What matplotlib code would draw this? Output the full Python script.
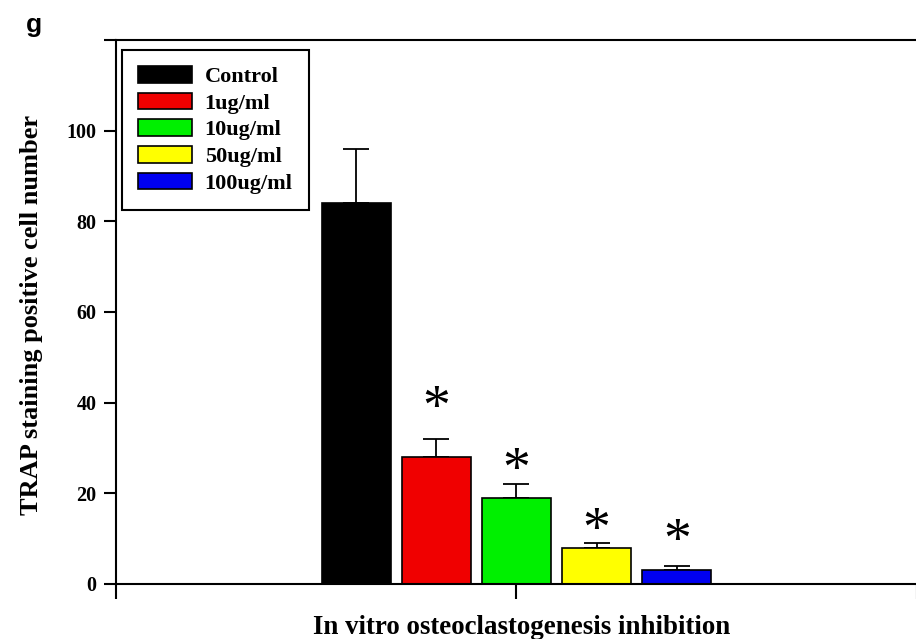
import matplotlib
matplotlib.use("Agg")
from matplotlib import pyplot as plt

groups = ["Control", "1ug/ml", "10ug/ml", "50ug/ml", "100ug/ml"]
means = [84, 28, 19, 8, 3]
errs = [12, 4, 3, 1, 1]
star_y = [None, 41.7, 28.0, 14.8, 12.4]
colors = ["#000000", "#f00000", "#00f000", "#ffff00", "#0000f0"]
yticks = [0, 20, 40, 60, 80, 100, 120]
ytick_labels = ["0", "20", "40", "60", "80", "100", ""]

plt.rcParams['font.family'] = ['Liberation Serif', 'DejaVu Serif']

fig = plt.figure(figsize=(9.16, 6.39), dpi=100)
ax = fig.add_axes([0.1266, 0.0861, 0.8745, 0.8513])

pos = [0.6 + 0.2 * i for i in range(len(means))]
for i in range(len(means)):
    ax.bar(pos[i], means[i], width=0.172, color=colors[i], edgecolor="black",
           linewidth=1.2, label=groups[i], zorder=2)
    ax.errorbar(pos[i], means[i], yerr=[[0], [errs[i]]], fmt="none",
                ecolor="black", elinewidth=1.3, capsize=9.5, capthick=1.3, zorder=1)
    if star_y[i] is not None:
        # glyph sits above the middle of its text box, shift down a bit
        ax.text(pos[i], star_y[i] - 3.3, "*", ha="center", va="center", fontsize=40)

ax.set_xlim(0, 2)
ax.set_ylim(0, 120)
ax.set_xticks([0, 1, 2])
ax.set_xticklabels([])
ax.set_yticks(yticks)
ax.set_yticklabels(ytick_labels, fontsize=14.5, fontweight="bold")
ax.tick_params(axis="both", direction="out", width=1.5)
ax.tick_params(axis="y", length=9, pad=5)
ax.tick_params(axis="x", length=11)
for s in ax.spines.values():
    s.set_linewidth(1.5)

ax.set_ylabel("TRAP staining positive cell number", fontsize=19, fontweight="bold",
              va="center")
ax.yaxis.set_label_coords(-0.105, 0.495)
ax.set_xlabel("In vitro osteoclastogenesis inhibition", fontsize=19.4, fontweight="bold",
              va="baseline")
ax.xaxis.set_label_coords(0.506, -0.092)

leg = ax.legend(loc="upper left", bbox_to_anchor=(0.0075, 0.9816), borderaxespad=0,
                fancybox=False, edgecolor="black", framealpha=1,
                handlelength=2.45, handleheight=0.78, borderpad=0.72,
                labelspacing=0.25, handletextpad=0.55,
                prop={"weight": "bold", "size": 16})
leg.get_frame().set_linewidth(1.5)

fig.text(34 / 916, 1 - 25 / 639, "g", fontsize=19, fontweight="bold",
         family="Liberation Sans", ha="center", va="center")

plt.savefig("out.png", dpi=100)
